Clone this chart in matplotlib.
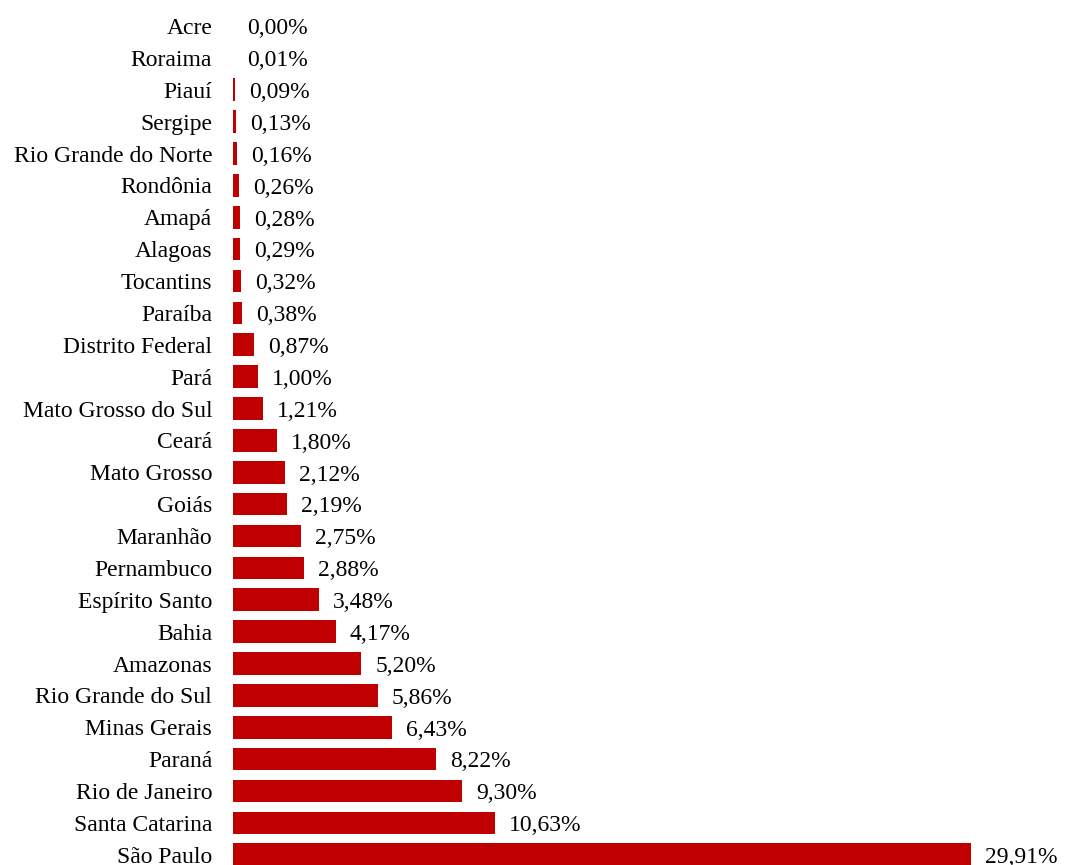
import matplotlib
matplotlib.use("Agg")
from matplotlib import pyplot as plt

# estados e percentuais
states = ["Acre", "Roraima", "Piauí", "Sergipe", "Rio Grande do Norte", "Rondônia",
          "Amapá", "Alagoas", "Tocantins", "Paraíba", "Distrito Federal", "Pará",
          "Mato Grosso do Sul", "Ceará", "Mato Grosso", "Goiás", "Maranhão",
          "Pernambuco", "Espírito Santo", "Bahia", "Amazonas", "Rio Grande do Sul",
          "Minas Gerais", "Paraná", "Rio de Janeiro", "Santa Catarina", "São Paulo"]
values = [0.00, 0.01, 0.09, 0.13, 0.16, 0.26, 0.28, 0.29, 0.32, 0.38, 0.87, 1.00,
          1.21, 1.80, 2.12, 2.19, 2.75, 2.88, 3.48, 4.17, 5.20, 5.86, 6.43, 8.22,
          9.30, 10.63, 29.91]

plt.rcParams["font.family"] = ["Liberation Serif", "DejaVu Serif"]

fig = plt.figure(figsize=(10.67, 8.65), dpi=100)
left = 233 / 1067
ax = fig.add_axes([left, 0, 1 - left, 1])

pos = list(range(len(states)))
ax.barh(pos, values, height=0.71, color="#C00000", linewidth=0)

for y, v in zip(pos, values):
    ax.annotate(("%.2f%%" % v).replace(".", ","), (v, y), xytext=(10, -2),
                textcoords="offset points", va="center", ha="left", fontsize=17)

ax.set_xlim(0, 33.8)
ax.set_ylim(26.32, -0.816)
ax.set_yticks(pos)
ax.set_yticklabels(states, fontsize=17)
ax.tick_params(axis="y", length=0, pad=15)
ax.set_xticks([])
for s in ax.spines.values():
    s.set_visible(False)

fig.savefig("out.png", dpi=100)
